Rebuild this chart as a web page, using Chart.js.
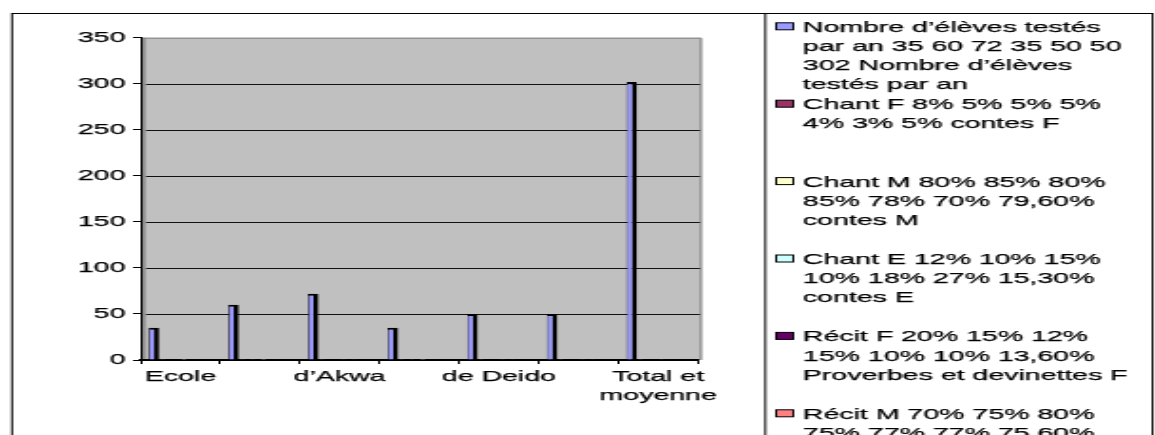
<!DOCTYPE html>
<html>
<head>
<meta charset="utf-8">
<script src="https://cdn.jsdelivr.net/npm/chart.js@4.4.1/dist/chart.umd.min.js"></script>
<style>
  html, body { margin: 0; padding: 0; background: #fff; overflow: hidden; }
  /* the chart is laid out narrow and stretched sideways */
  #frame { position: absolute; left: 0; top: 0; width: 608px; height: 435px;
           transform: scaleX(1.9); transform-origin: 0 0; }
</style>
</head>
<body>
<div id="frame"><canvas id="chart"></canvas></div>
<script>
// categories (only every other school label is printed)
const categories = ['Ecole', '', 'd’Akwa', '', 'de Deido', '', ['Total et', 'moyenne']];

// series values
const eleves = [35, 60, 72, 35, 50, 50, 302];
const chantF = [0.08, 0.05, 0.05, 0.05, 0.04, 0.03, 0.05];
const chantM = [0.80, 0.85, 0.80, 0.85, 0.78, 0.70, 0.796];
const chantE = [0.12, 0.10, 0.15, 0.10, 0.18, 0.27, 0.153];
const recitF = [0.20, 0.15, 0.12, 0.15, 0.10, 0.10, 0.136];
const recitM = [0.70, 0.75, 0.80, 0.75, 0.77, 0.77, 0.756];

// value axis ticks
const yTicks = [0, 50, 100, 150, 200, 250, 300, 350];

// legend entries, as wrapped lines
const nameEleves = ['Nombre d’élèves testés', 'par an 35 60 72 35 50 50', '302 Nombre d’élèves', 'testés par an'];
const nameChantF = ['Chant F 8% 5% 5% 5%', '4% 3% 5% contes F'];
const nameChantM = ['Chant M 80% 85% 80%', '85% 78% 70% 79,60%', 'contes M'];
const nameChantE = ['Chant E 12% 10% 15%', '10% 18% 27% 15,30%', 'contes E'];
const nameRecitF = ['Récit F 20% 15% 12%', '15% 10% 10% 13,60%', 'Proverbes et devinettes F'];
const nameRecitM = ['Récit M 70% 75% 80%', '75% 77% 77% 75,60%'];

const FONT = "'Liberation Sans', Arial, sans-serif";
const TEXT_STROKE = 0.25;

function series(lines, data, color) {
  return {
    label: lines.join(' '),
    legendLines: lines,
    data: data,
    backgroundColor: color,
    borderColor: '#000',
    borderWidth: { top: 2, right: 2.7, left: 0.7, bottom: 0 },
    borderSkipped: 'start'
  };
}

// grey plot wall, side strip and horizontal gridlines
const wallPlugin = {
  id: 'wall',
  beforeDraw(chart) {
    const { ctx, chartArea: a } = chart;
    ctx.save();
    ctx.fillStyle = '#fff';
    ctx.fillRect(0, 0, chart.width, chart.height);
    ctx.fillStyle = '#c0c0c0';
    ctx.fillRect(a.left + 2.8, a.top, a.right + 2 - (a.left + 2.8), a.bottom - a.top);
    ctx.fillStyle = '#8c8c8c';
    ctx.fillRect(a.left + 0.5, a.top, 2.3, a.bottom - a.top);
    ctx.strokeStyle = '#808080';
    ctx.lineWidth = 1;
    ctx.beginPath();
    ctx.moveTo(a.left + 0.5, a.top + 0.5);
    ctx.lineTo(a.right + 1.5, a.top + 0.5);
    ctx.lineTo(a.right + 1.5, a.bottom);
    ctx.stroke();
    ctx.restore();
  },
  beforeDatasetsDraw(chart) {
    const { ctx, chartArea: a, scales } = chart;
    const y = scales.y;
    ctx.save();
    ctx.strokeStyle = '#111';
    ctx.lineWidth = 1.2;
    y.ticks.forEach(t => {
      if (t.value === 0 || t.value === 350) return;
      const py = Math.round(y.getPixelForValue(t.value)) + 0.5;
      ctx.beginPath();
      ctx.moveTo(a.left + 2.8, py);
      ctx.lineTo(a.right + 1, py);
      ctx.stroke();
    });
    ctx.restore();
  }
};

// outer frame and the side legend box
const legendPlugin = {
  id: 'sideLegend',
  afterDraw(chart) {
    const ctx = chart.ctx;
    ctx.save();
    ctx.strokeStyle = '#000';
    ctx.lineWidth = 1;
    ctx.strokeRect(6.3, 13.5, 600.3, 500);
    ctx.beginPath();
    ctx.moveTo(402.8, 13.5);
    ctx.lineTo(402.8, chart.height + 5);
    ctx.stroke();

    ctx.font = '15px ' + FONT;
    ctx.textBaseline = 'alphabetic';
    ctx.textAlign = 'left';
    chart.data.datasets.forEach((ds, i) => {
      const cy = 26.3 + i * 77.4;
      ctx.fillStyle = ds.backgroundColor;
      ctx.fillRect(408.5, cy - 3.5, 9, 7);
      ctx.strokeStyle = '#000';
      ctx.lineWidth = 1;
      ctx.strokeRect(408.5, cy - 3.5, 9, 7);
      ctx.fillStyle = '#000';
      ctx.lineWidth = TEXT_STROKE;
      ds.legendLines.forEach((line, j) => {
        const ty = cy + 5.5 + j * 19.2;
        ctx.fillText(line, 422.6, ty);
        ctx.strokeText(line, 422.6, ty);
      });
    });
    ctx.restore();
  }
};

new Chart(document.getElementById('chart'), {
  type: 'bar',
  data: {
    labels: categories,
    datasets: [
      series(nameEleves, eleves, '#9999ff'),
      series(nameChantF, chantF, '#993366'),
      series(nameChantM, chantM, '#ffffcc'),
      series(nameChantE, chantE, '#ccffff'),
      series(nameRecitF, recitF, '#660066'),
      series(nameRecitM, recitM, '#ff8080')
    ]
  },
  options: {
    responsive: true,
    maintainAspectRatio: false,
    devicePixelRatio: 1,
    animation: false,
    layout: { padding: { top: 37.7, right: 240.6, left: 0, bottom: 0 } },
    datasets: { bar: { categoryPercentage: 0.80, barPercentage: 1.0 } },
    plugins: { legend: { display: false }, tooltip: { enabled: false } },
    scales: {
      x: {
        offset: true,
        grid: { display: true, offset: true, drawOnChartArea: false, drawTicks: true,
                tickLength: 4, color: '#000', lineWidth: 1 },
        border: { display: true, color: '#000', width: 2 },
        ticks: { autoSkip: false, maxRotation: 0, minRotation: 0, padding: 3,
                 color: '#000', textStrokeColor: '#000', textStrokeWidth: TEXT_STROKE,
                 font: { family: FONT, size: 15, lineHeight: 1.3 } },
        afterFit(scale) { scale.height = 75; }
      },
      y: {
        min: 0, max: 350,
        afterBuildTicks(scale) { scale.ticks = yTicks.map(v => ({ value: v })); },
        grid: { display: true, drawOnChartArea: false, drawTicks: true,
                tickLength: 4, color: '#000', lineWidth: 1 },
        border: { display: true, color: '#000', width: 1 },
        ticks: { padding: 4, color: '#000', textStrokeColor: '#000', textStrokeWidth: TEXT_STROKE,
                 font: { family: FONT, size: 15 } },
        afterFit(scale) { scale.width = 74; }
      }
    }
  },
  plugins: [wallPlugin, legendPlugin]
});
</script>
</body>
</html>
